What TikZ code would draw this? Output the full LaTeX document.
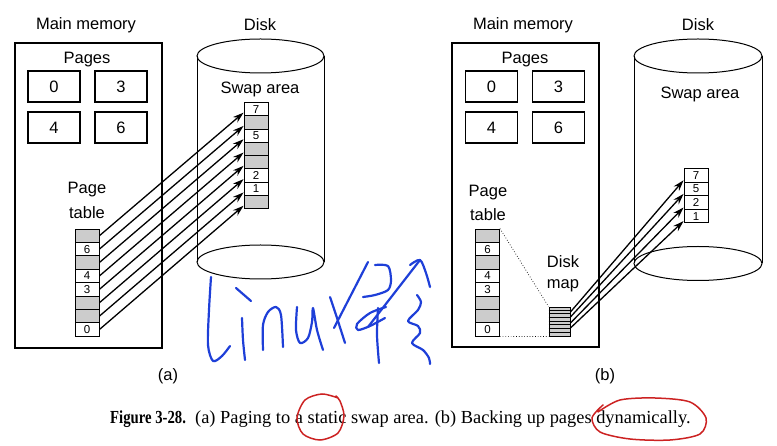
\documentclass[tikz,border=0pt]{standalone}
\usepackage{fontspec}
\setmainfont{Liberation Sans}
\newfontfamily\capfont{Liberation Serif}
\usetikzlibrary{arrows.meta}
\definecolor{ink}{HTML}{1E3FD8}
\definecolor{pen}{HTML}{CC2222}
\tikzset{
  lbl/.style={font=\fontsize{16.5}{19}\selectfont, inner sep=0pt},
  pagebox/.style={draw, line width=1.2pt, minimum width=52pt, minimum height=31pt, font=\fontsize{16.5}{19}\selectfont},
  slot/.style={draw, line width=0.9pt, minimum width=24pt, minimum height=13.4pt, inner sep=0pt, font=\fontsize{11.5}{12}\selectfont},
  ptr/.style={line width=1.3pt, -{Stealth[length=11pt,width=7pt]}},
  scrawl/.style={ink, line width=2.2pt, line cap=round, line join=round},
  ring/.style={pen, line width=1.5pt, line cap=round},
}
\begin{document}
\begin{tikzpicture}[x=1pt, y=-1pt]
  \useasboundingbox (0,0) rectangle (777,446);
  % (a) static swap area
  \draw[line width=1.2pt] (15,43) rectangle (162,348);
  \node[lbl] (mema) at (86,25) {Main memory};
  \node[lbl] (diska) at (260,25) {Disk};
  \node[lbl] (pagesa) at (87,60) {Pages};
  \node[pagebox] (pga0) at (54,86.5) {0};
  \node[pagebox] (pga3) at (121,86.5) {3};
  \node[pagebox] (pga4) at (54,127.5) {4};
  \node[pagebox] (pga6) at (121,127.5) {6};
  \node[lbl] (pta1) at (87,190) {Page};
  \node[lbl] (pta2) at (87,213) {table};
  \draw[line width=1pt] (260.5,56) ellipse [x radius=63.5pt, y radius=17pt];
  \draw[line width=1pt] (197,56) -- (197,262);
  \draw[line width=1pt] (324,56) -- (324,262);
  \draw[line width=1pt] (260.5,262) ellipse [x radius=63.5pt, y radius=17pt];
  \node[lbl] (swapa) at (260,89) {Swap area};
  \foreach \lab/\shade [count=\i] in {{}/black!20, 6/white, {}/black!20, 4/white, 3/white, {}/black!20, {}/black!20, 0/white}
    \node[slot, fill=\shade] (pa\i) at (87,{229+13.4*(\i-0.5)}) {\lab};
  \foreach \lab/\shade [count=\i] in {7/white, {}/black!20, 5/white, {}/black!20, {}/black!20, 2/white, 1/white, {}/black!20}
    \node[slot, fill=\shade] (sa\i) at (256,{102.5+13.3*(\i-0.5)}) {\lab};
  \foreach \i in {1,...,8}
    \draw[ptr] (pa\i.east) -- ([yshift=-3.5pt]sa\i.west);
  \node[lbl] (taga) at (168,376) {(a)};

  % (b) dynamic backing
  \draw[line width=1.2pt] (452,43) rectangle (599,347);
  \node[lbl] (memb) at (523,25) {Main memory};
  \node[lbl] (diskb) at (698,25) {Disk};
  \node[lbl] (pagesb) at (525,60) {Pages};
  \node[pagebox] (pgb0) at (491.5,86.5) {0};
  \node[pagebox] (pgb3) at (558.5,86.5) {3};
  \node[pagebox] (pgb4) at (491.5,127.5) {4};
  \node[pagebox] (pgb6) at (558.5,127.5) {6};
  \node[lbl] (ptb1) at (488,193) {Page};
  \node[lbl] (ptb2) at (488,215) {table};
  \node[lbl] (dmb1) at (563,262) {Disk};
  \node[lbl] (dmb2) at (563,286) {map};
  \draw[line width=1pt] (698,56) ellipse [x radius=64pt, y radius=17pt];
  \draw[line width=1pt] (634,56) -- (634,263.5);
  \draw[line width=1pt] (762,56) -- (762,263.5);
  \draw[line width=1pt] (698,263.5) ellipse [x radius=64pt, y radius=17pt];
  \node[lbl] (swapb) at (700,94) {Swap area};
  \foreach \lab/\shade [count=\i] in {{}/black!20, 6/white, {}/black!20, 4/white, 3/white, {}/black!20, {}/black!20, 0/white}
    \node[slot, fill=\shade] (pb\i) at (487.5,{229+13.4*(\i-0.5)}) {\lab};
  \foreach \lab [count=\i] in {7,5,2,1}
    \node[slot, minimum height=13.6pt] (sb\i) at (696,{168.5+13.6*(\i-0.5)}) {\lab};
  \node[draw, line width=0.9pt, fill=black!20, minimum width=21pt, minimum height=29pt, inner sep=0pt] (dmap) at (559.5,321.5) {};
  \foreach \k in {1,...,7}
    \draw[line width=0.6pt] ([yshift=-3.625pt*\k]dmap.north west) -- ([yshift=-3.625pt*\k]dmap.north east);
  \draw[dotted, line width=0.7pt] (pb1.north east) -- (dmap.north west);
  \draw[dotted, line width=0.7pt] (pb8.south east) -- (dmap.south west);
  \foreach \i/\dy in {1/9.5, 2/4.5, 3/-1.5, 4/-6.5}
    \draw[ptr] ([yshift=\dy pt]dmap.east) -- ([yshift=-5pt]sb\i.west);
  \node[lbl] (tagb) at (605,376) {(b)};

  % caption
  \node[font=\capfont\fontsize{18.4}{21}\selectfont, inner sep=0pt, anchor=base west] (cap) at (110,424)
    {\scalebox{0.8}[1]{\textbf{Figure 3-28.}}\ \ (a) Paging to a static swap area. (b) Backing up pages dynamically.};

  % handwritten notes
  \draw[scrawl] plot[smooth] coordinates {(211,277) (209,310) (208,345) (213,361) (222,356) (230,346)};
  \draw[scrawl] (236,288) -- (251,301);
  \draw[scrawl] plot[smooth] coordinates {(242,318) (243,340) (245,360)};
  \draw[scrawl] plot[smooth] coordinates {(263,350) (263,325) (268,312) (276,307) (281,315) (283,347)};
  \draw[scrawl] plot[smooth] coordinates {(297,307) (296,330) (300,343) (308,338) (312,322) (313,308) (317,330) (323,350)};
  \draw[scrawl] plot[smooth] coordinates {(330,297) (337,318) (345,343)};
  \draw[scrawl] (368,262) -- (334,328);
  \draw[scrawl] plot[smooth] coordinates {(375,265) (388,266) (391,280) (388,290) (375,295) (363,297)};
  \draw[scrawl] plot[smooth] coordinates {(386,307) (370,313) (357,324) (358,330) (370,326) (385,318)};
  \draw[scrawl] plot[smooth] coordinates {(378,308) (377,335) (379,363)};
  \draw[scrawl] (368,327) -- (420,260);
  \draw[scrawl] plot[smooth] coordinates {(410,265) (420,260) (426,273) (430,287)};
  \draw[scrawl] plot[smooth] coordinates {(417,295) (421,302) (418,310) (408,321) (418,326) (420,333) (412,343) (423,350) (429,358) (430,364)};
  \draw[ring] plot[smooth] coordinates {(338,398) (322,394) (305,400) (297,418) (303,434) (320,440) (338,433) (344,416) (340,401) (336,396)};
  \draw[ring] plot[smooth] coordinates {(598,412) (620,400) (655,398) (690,402) (706,418) (700,434) (670,440) (630,439) (600,432) (592,418) (603,405)};
\end{tikzpicture}
\end{document}
